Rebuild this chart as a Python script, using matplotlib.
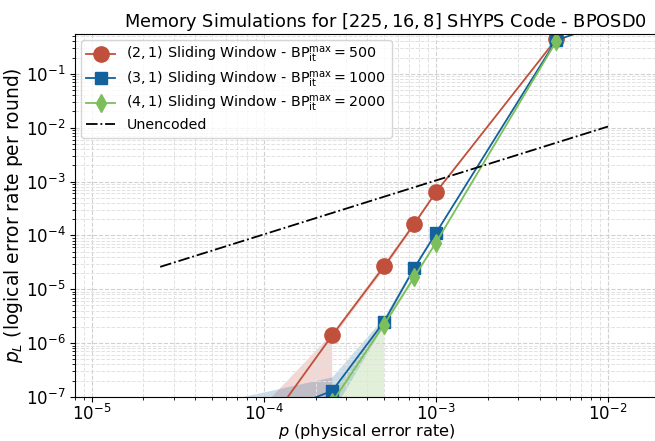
import numpy as np
import matplotlib
matplotlib.use("Agg")
from matplotlib import pyplot as plt

# (2,1) sliding window, BP max it = 500
p_21 = [1e-4, 2.5e-4, 5e-4, 7.5e-4, 1e-3, 5e-3]
pl_21 = [2.4e-8, 1.4e-6, 2.65e-5, 1.65e-4, 6.3e-4, 0.44]
lo_21 = [0.0, 1.2e-6, 2.3e-5, 1.5e-4, 6.0e-4, 0.43]
hi_21 = [7e-8, 1.5e-6, 3.0e-5, 1.8e-4, 6.6e-4, 0.45]

# (3,1) sliding window, BP max it = 1000
p_31 = [5e-5, 2.5e-4, 5e-4, 7.5e-4, 1e-3, 5e-3, 1e-2]
pl_31 = [1.7e-8, 1.3e-7, 2.5e-6, 2.5e-5, 1.1e-4, 0.42, 0.9]
lo_31 = [0.0, 5e-8, 2.1e-6, 2.3e-5, 1.05e-4, 0.41, 0.89]
hi_31 = [7.4e-8, 2.3e-7, 2.9e-6, 2.7e-5, 1.15e-4, 0.43, 0.91]

# (4,1) sliding window, BP max it = 2000
p_41 = [2.5e-4, 5e-4, 7.5e-4, 1e-3, 5e-3]
pl_41 = [8e-8, 2.2e-6, 1.7e-5, 7.3e-5, 0.4]
lo_41 = [0.0, 1.9e-6, 1.55e-5, 7.0e-5, 0.39]
hi_41 = [1.2e-7, 2.5e-6, 1.85e-5, 7.6e-5, 0.41]

# unencoded reference
p_unenc = [2.5e-5, 1e-2]
pl_unenc = [2.6e-5, 1.05e-2]

labels = [r"$(2,1)$ Sliding Window - $\mathrm{BP}_{\mathrm{it}}^{\mathrm{max}} = 500$",
          r"$(3,1)$ Sliding Window - $\mathrm{BP}_{\mathrm{it}}^{\mathrm{max}} = 1000$",
          r"$(4,1)$ Sliding Window - $\mathrm{BP}_{\mathrm{it}}^{\mathrm{max}} = 2000$"]
colors = ["#c0503c", "#13619d", "#7cbf5a"]
markers = ["o", "s", "d"]
msizes = [11, 8.5, 9]

fig = plt.figure(figsize=(6.55, 4.41), dpi=100)
ax = fig.add_axes([0.1145, 0.1, 0.89, 0.823])
ax.set_xscale("log")
ax.set_yscale("log")

series = [(p_21, pl_21, lo_21, hi_21), (p_31, pl_31, lo_31, hi_31), (p_41, pl_41, lo_41, hi_41)]
for (x, y, lo, hi), lab, c, m, ms in zip(series, labels, colors, markers, msizes):
    ax.fill_between(x, lo, hi, color=c, alpha=0.22, linewidth=0)
    ax.plot(x, y, marker=m, color=c, markersize=ms, linewidth=1.3, label=lab)

ax.plot(p_unenc, pl_unenc, "k-.", linewidth=1.3, label="Unencoded")

ax.set_xlim(8e-6, 1.95e-2)
ax.set_ylim(1e-7, 0.55)
ax.grid(True, which="major", linestyle="--", color="#d0d0d0", linewidth=0.8)
ax.grid(True, which="minor", linestyle="--", color="#e2e2e2", linewidth=0.7)
ax.tick_params(labelsize=12)
ax.tick_params(axis="x", pad=1.5)
ax.set_xlabel(r"$p$ (physical error rate)", fontsize=11.6)
ax.xaxis.set_label_coords(0.5, -0.069)
ax.set_ylabel(r"$p_L$ (logical error rate per round)", fontsize=13.5)
ax.yaxis.set_label_coords(-0.086, 0.5)
ax.set_title(r"Memory Simulations for $[225, 16, 8]$ SHYPS Code - BPOSD0", fontsize=12.8, pad=5, x=0.533)
ax.legend(loc="upper left", fontsize=10.3, labelspacing=0.3, borderaxespad=0.4)

fig.savefig("out.png", dpi=100)
